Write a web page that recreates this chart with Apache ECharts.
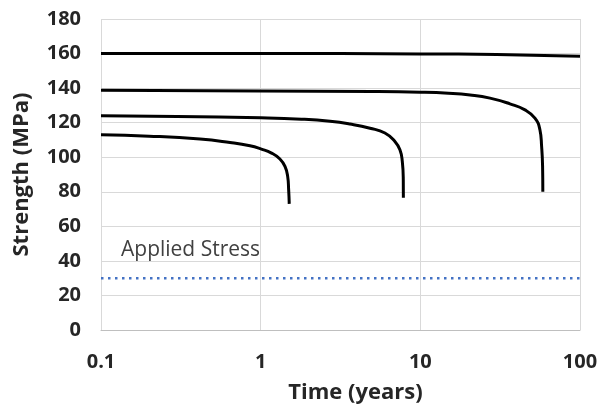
<!DOCTYPE html>
<html>
<head>
<meta charset="utf-8">
<script src="https://cdn.jsdelivr.net/npm/echarts@6/dist/echarts.min.js"></script>
<style>
html, body { margin: 0; padding: 0; background: #fff; }
#main { width: 603px; height: 406px; }
</style>
</head>
<body>
<div id="main"></div>
<script>
// time (years) and strength (MPa) for each curve
var t160 = [0.1, 1, 10, 30, 100];
var s160 = [160, 160, 159.8, 159.4, 158.4];

var t138 = [0.1, 1, 5, 10, 15, 20.5, 27.3, 36.4, 45.2, 52.2, 56.1, 57.5, 58.3, 58.5];
var s138 = [138.8, 138.3, 138, 137.6, 137, 136, 134.2, 130.9, 127.4, 122.6, 115.9, 106.2, 94.7, 80];

var t124 = [0.1, 0.3, 1, 1.8, 2.72, 3.63, 4.84, 6.0, 6.93, 7.45, 7.71, 7.82, 7.83];
var s124 = [124, 123.6, 122.8, 122, 120.8, 119.2, 116.8, 114, 109.1, 104.3, 97.6, 87, 76.5];

var t113 = [0.1, 0.2, 0.417, 0.643, 0.857, 1.01, 1.17, 1.32, 1.42, 1.476, 1.497, 1.51];
var s113 = [113, 112.2, 110.5, 108.5, 106.6, 104.7, 102.4, 99, 94.7, 88.9, 81.2, 73];

var tStress = [0.1, 100];
var sStress = [30, 30];

var yTicks = [0, 20, 40, 60, 80, 100, 120, 140, 160, 180];

function pairs(t, s) {
    var out = [];
    for (var i = 0; i < t.length; i++) {
        out.push([t[i], s[i]]);
    }
    return out;
}

function curve(t, s) {
    return {
        type: 'line',
        data: pairs(t, s),
        showSymbol: false,
        smooth: 0.5,
        lineStyle: { color: '#000000', width: 3 },
        z: 3
    };
}

var chart = echarts.init(document.getElementById('main'));

chart.setOption({
    animation: false,
    grid: { left: 101, right: 23, top: 19, bottom: 76, outerBoundsMode: 'none', containLabel: false },
    xAxis: {
        type: 'log',
        logBase: 10,
        min: 0.1,
        max: 100,
        name: 'Time (years)',
        nameLocation: 'middle',
        nameGap: 52,
        nameTextStyle: {
            color: '#262626', fontSize: 22, fontWeight: 'bold', fontFamily: 'Open Sans',
            padding: [0, 0, 0, 30]
        },
        axisLine: { show: true, lineStyle: { color: '#bfbfbf', width: 1 } },
        axisTick: { show: false },
        splitLine: { show: true, lineStyle: { color: '#d9d9d9', width: 1 } },
        axisLabel: {
            margin: 22,
            color: '#262626',
            fontSize: 20,
            fontWeight: 'bold',
            fontFamily: 'Open Sans',
            formatter: function (v) { return String(v); }
        }
    },
    yAxis: {
        type: 'value',
        min: yTicks[0],
        max: yTicks[yTicks.length - 1],
        interval: 20,
        name: 'Strength (MPa)',
        nameLocation: 'middle',
        nameGap: 68,
        nameTextStyle: { color: '#262626', fontSize: 22, fontWeight: 'bold', fontFamily: 'Open Sans' },
        axisLine: { show: false },
        axisTick: { show: false },
        splitLine: { show: true, lineStyle: { color: '#d9d9d9', width: 1 } },
        axisLabel: {
            margin: 20,
            color: '#262626',
            fontSize: 20,
            fontWeight: 'bold',
            fontFamily: 'Open Sans'
        }
    },
    graphic: [{
        type: 'text',
        left: 121,
        top: 240,
        style: {
            text: 'Applied Stress',
            fill: '#404040',
            font: '21px "Open Sans"'
        }
    }],
    series: [
        curve(t160, s160),
        curve(t138, s138),
        curve(t124, s124),
        curve(t113, s113),
        {
            type: 'line',
            data: pairs(tStress, sStress),
            showSymbol: false,
            lineStyle: { color: '#4472c4', width: 2.5, type: [2.5, 4.5] },
            z: 2
        }
    ]
});
</script>
</body>
</html>
